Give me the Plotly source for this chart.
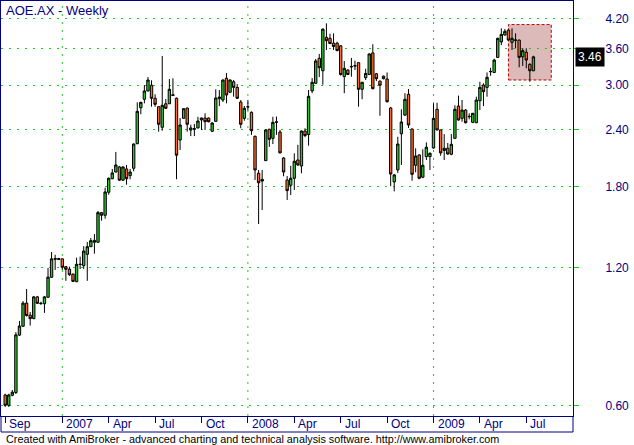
import math
import pandas as pd
import plotly.graph_objects as go

# ---------------- data ----------------
first_week = "2006-09-15"   # weekly bars, one per Friday

opens = [0.632, 0.600, 0.631, 0.640, 0.854, 0.893, 1.003, 0.944, 0.928, 1.035,
         1.000, 1.000, 1.033, 1.142, 1.250, 1.255, 1.253, 1.205, 1.190, 1.160,
         1.117, 1.220, 1.211, 1.282, 1.332, 1.362, 1.362, 1.581, 1.560, 1.752,
         1.875, 1.939, 1.989, 1.861, 1.969, 1.904, 1.976, 2.236, 2.679, 2.795,
         2.914, 3.000, 2.809, 2.693, 2.428, 2.733, 2.733, 2.860, 2.809, 2.278,
         2.540, 2.675, 2.395, 2.405, 2.420, 2.519, 2.544, 2.544, 2.380, 2.502,
         2.803, 2.785, 3.106, 2.896, 3.053, 2.968, 2.757, 2.540, 2.690, 2.618,
         2.320, 1.927, 1.869, 2.053, 2.404, 2.297, 2.490, 2.371, 2.081, 1.863,
         1.814, 1.879, 2.060, 1.999, 2.383, 2.341, 2.915, 3.030, 3.435, 3.226,
         3.817, 3.798, 3.707, 3.707, 3.658, 3.133, 3.238, 3.290, 3.310, 3.361,
         2.939, 3.116, 3.166, 3.529, 3.178, 3.063, 3.140, 3.095, 2.676, 1.845,
         1.960, 2.350, 2.582, 2.866, 2.408, 2.006, 2.113, 1.889, 2.095, 2.095,
         2.188, 2.658, 2.396, 2.161, 2.185, 2.120, 2.297, 2.702, 2.540, 2.648,
         2.560, 2.489, 2.485, 2.775, 3.003, 2.968, 3.210, 3.199, 3.451, 3.730,
         3.862, 3.957, 3.722, 3.760, 3.765, 3.461, 3.541, 3.332, 3.226]
highs = [0.636, 0.636, 0.648, 0.867, 0.917, 1.013, 1.077, 0.959, 1.040, 1.040,
         1.010, 1.040, 1.197, 1.297, 1.279, 1.260, 1.255, 1.205, 1.205, 1.165,
         1.261, 1.267, 1.336, 1.364, 1.392, 1.420, 1.594, 1.585, 1.792, 1.885,
         1.969, 2.145, 2.000, 1.995, 2.009, 1.969, 2.240, 2.753, 2.760, 3.003,
         3.126, 3.075, 2.866, 2.700, 3.475, 2.799, 3.095, 3.106, 2.820, 2.544,
         2.670, 2.680, 2.460, 2.470, 2.560, 2.550, 2.605, 2.550, 2.490, 2.939,
         2.929, 3.090, 3.188, 3.090, 3.080, 3.018, 2.785, 2.702, 2.785, 2.630,
         2.330, 1.959, 1.959, 2.400, 2.410, 2.560, 2.563, 2.396, 2.090, 1.900,
         2.000, 2.130, 2.223, 2.390, 2.416, 2.929, 3.110, 3.423, 3.511, 3.990,
         4.095, 3.886, 3.894, 3.733, 3.670, 3.389, 3.250, 3.441, 3.395, 3.370,
         3.050, 3.259, 3.520, 3.686, 3.190, 3.070, 3.150, 3.199, 2.690, 1.920,
         2.315, 2.658, 2.882, 2.944, 2.410, 2.185, 2.120, 2.174, 2.251, 2.140,
         2.739, 2.747, 2.400, 2.347, 2.244, 2.347, 2.712, 2.847, 2.785, 2.660,
         2.605, 2.610, 2.832, 3.053, 3.030, 3.199, 3.274, 3.428, 3.810, 3.994,
         3.981, 3.986, 3.994, 3.894, 3.770, 3.612, 3.612, 3.350, 3.480]
lows = [0.595, 0.595, 0.628, 0.635, 0.850, 0.890, 0.938, 0.896, 0.925, 1.000,
        0.995, 0.955, 1.030, 1.140, 1.185, 1.245, 1.185, 1.122, 1.150, 1.115,
        1.115, 1.191, 1.191, 1.122, 1.330, 1.286, 1.360, 1.518, 1.533, 1.730,
        1.870, 1.935, 1.855, 1.855, 1.819, 1.869, 1.946, 2.230, 2.592, 2.739,
        2.910, 2.693, 2.693, 2.375, 2.387, 2.665, 2.730, 2.840, 1.870, 2.166,
        2.535, 2.375, 2.323, 2.323, 2.415, 2.396, 2.396, 2.490, 2.375, 2.500,
        2.701, 2.757, 2.739, 2.890, 2.832, 2.800, 2.416, 2.510, 2.643, 2.337,
        1.863, 1.493, 1.602, 2.050, 2.200, 2.232, 2.337, 2.130, 1.898, 1.685,
        1.727, 1.772, 2.000, 1.927, 2.310, 2.214, 2.882, 3.020, 3.126, 3.008,
        3.582, 3.690, 3.582, 3.560, 3.150, 2.882, 3.160, 3.131, 3.238, 2.693,
        2.795, 3.080, 3.160, 2.940, 3.063, 2.573, 3.090, 2.750, 1.806, 1.759,
        1.930, 2.009, 2.570, 2.420, 1.856, 1.936, 1.870, 1.880, 2.060, 1.959,
        2.180, 2.390, 2.105, 2.060, 2.115, 2.110, 2.290, 2.510, 2.497, 2.475,
        2.527, 2.480, 2.480, 2.648, 2.702, 2.832, 3.147, 3.190, 3.440, 3.670,
        3.850, 3.750, 3.582, 3.612, 3.283, 3.304, 3.266, 3.053, 3.220]
closes = [0.600, 0.632, 0.641, 0.855, 0.894, 1.003, 0.942, 0.928, 1.035, 1.002,
          1.002, 1.035, 1.143, 1.253, 1.255, 1.250, 1.201, 1.189, 1.157, 1.119,
          1.219, 1.218, 1.303, 1.332, 1.373, 1.375, 1.581, 1.560, 1.754, 1.879,
          1.930, 2.009, 1.861, 1.989, 1.875, 1.939, 2.232, 2.631, 2.753, 2.914,
          3.080, 2.809, 2.725, 2.465, 2.712, 2.671, 2.939, 2.850, 2.110, 2.456,
          2.666, 2.465, 2.420, 2.410, 2.506, 2.544, 2.497, 2.497, 2.481, 2.813,
          2.827, 3.080, 2.856, 3.080, 2.968, 2.809, 2.465, 2.671, 2.692, 2.387,
          1.959, 1.837, 1.853, 2.396, 2.286, 2.489, 2.495, 2.135, 1.939, 1.766,
          1.879, 2.047, 2.009, 2.383, 2.329, 2.837, 3.045, 3.389, 3.276, 3.978,
          3.753, 3.699, 3.645, 3.570, 3.166, 3.266, 3.166, 3.295, 3.305, 2.939,
          3.045, 3.183, 3.511, 2.948, 3.100, 3.000, 3.100, 2.761, 1.920, 1.911,
          2.232, 2.494, 2.795, 2.456, 1.917, 2.102, 1.879, 2.006, 2.196, 2.131,
          2.540, 2.396, 2.135, 2.185, 2.123, 2.229, 2.658, 2.519, 2.648, 2.485,
          2.565, 2.605, 2.785, 2.968, 2.905, 3.122, 3.215, 3.405, 3.798, 3.874,
          3.934, 3.765, 3.798, 3.765, 3.451, 3.570, 3.405, 3.226, 3.460]

month_tick_dates = ["2006-09-15", "2007-01-05", "2007-04-06", "2007-07-06",
                    "2007-10-05", "2008-01-04", "2008-04-04", "2008-07-04",
                    "2008-10-03", "2009-01-02", "2009-04-03", "2009-07-03"]
month_tick_text = ["Sep", "2007", "Apr", "Jul", "Oct", "2008", "Apr", "Jul",
                   "Oct", "2009", "Apr", "Jul"]
year_grid_dates = ["2007-01-05", "2008-01-04", "2009-01-02"]

price_ticks = [0.60, 1.20, 1.80, 2.40, 3.00, 3.60, 4.20]
price_tick_text = ["0.60", "1.20", "1.80", "2.40", "3.00", "3.60", "4.20"]

study_box_dates = ["2009-05-29", "2009-08-21"]
study_box_prices = [3.08, 4.07]

x_range = ["2006-09-06 18:43", "2009-10-02 14:24"]
y_range = [0.5686, 4.582]

title_text = "AOE.AX - Weekly"
footer_text = ("Created with AmiBroker - advanced charting and technical analysis "
               "software. http://www.amibroker.com")

# ---------------- figure ----------------
NAVY = "#000080"
GRID = "#22c822"
FONT = "Arial, Liberation Sans, sans-serif"

dates = pd.date_range(first_week, periods=len(closes), freq="7D")

fig = go.Figure(go.Candlestick(
    x=dates, open=opens, high=highs, low=lows, close=closes,
    increasing=dict(fillcolor="#2cc42c", line=dict(color="black", width=1)),
    decreasing=dict(fillcolor="#ff6a26", line=dict(color="black", width=1)),
    whiskerwidth=0, showlegend=False, hoverinfo="skip"))

PLOT_H = 445 - 1 - 29
strip_y = -16 / PLOT_H

shapes = []
for d in year_grid_dates:
    shapes.append(dict(type="line", xref="x", yref="paper", x0=d, x1=d, y0=0, y1=1,
                       line=dict(color=GRID, width=1, dash="2px,6px"), layer="below"))
shapes.append(dict(type="rect", xref="x", yref="y",
                   x0=study_box_dates[0], x1=study_box_dates[1],
                   y0=study_box_prices[0], y1=study_box_prices[1],
                   fillcolor="#dcbaba", line=dict(color="#c00000", width=1, dash="3px,2px"),
                   layer="below"))
# date strip frame
shapes.append(dict(type="line", xref="paper", yref="paper", x0=0, x1=1, y0=strip_y, y1=strip_y,
                   line=dict(color=NAVY, width=1)))
shapes.append(dict(type="line", xref="paper", yref="paper", x0=0, x1=0, y0=strip_y, y1=0,
                   line=dict(color=NAVY, width=1)))
shapes.append(dict(type="line", xref="paper", yref="paper", x0=1, x1=1, y0=strip_y, y1=0,
                   line=dict(color=NAVY, width=1)))

annotations = []
for d, t in zip(month_tick_dates, month_tick_text):
    annotations.append(dict(x=d, xref="x", y=0, yref="paper", text=t, showarrow=False,
                            xanchor="left", yanchor="top", xshift=2, yshift=1,
                            font=dict(family=FONT, size=12, color=NAVY)))
annotations.append(dict(x=3 / 572, xref="paper", y=1, yref="paper", text=title_text,
                        showarrow=False, xanchor="left", yanchor="top", yshift=0,
                        font=dict(family=FONT, size=13, color=NAVY)))
annotations.append(dict(x=3 / 572, xref="paper", y=-23 / PLOT_H, yref="paper",
                        text=footer_text, showarrow=False, xanchor="left", yanchor="middle",
                        font=dict(family=FONT, size=10.8, color="black")))
annotations.append(dict(x=1, xref="paper", xshift=2, y=math.log10(closes[-1]), yref="y",
                        text=f"{closes[-1]:.2f}", showarrow=False, xanchor="left",
                        yanchor="middle", bgcolor="black", borderpad=2,
                        font=dict(family=FONT, size=12, color="white")))

fig.update_layout(
    width=634, height=445, margin=dict(l=1, r=61, t=1, b=29),
    paper_bgcolor="white", plot_bgcolor="white", showlegend=False, boxgap=0.05,
    xaxis=dict(type="date", range=x_range, rangeslider=dict(visible=False),
               showgrid=False, zeroline=False, showline=True, mirror=True,
               linecolor=NAVY, linewidth=1, ticks="outside", ticklen=6,
               tickcolor=NAVY, tickwidth=1, tickvals=month_tick_dates,
               showticklabels=False, automargin=False),
    yaxis=dict(type="log", side="right", range=[math.log10(y_range[0]), math.log10(y_range[1])],
               tickvals=price_ticks, ticktext=price_tick_text, showgrid=True,
               gridcolor=GRID, gridwidth=1, griddash="2px,6px", zeroline=False,
               showline=True, mirror=True, linecolor=NAVY, linewidth=1,
               ticks="outside", ticklen=5, tickcolor=GRID, tickwidth=1,
               ticklabelstandoff=24, automargin=False,
               tickfont=dict(family=FONT, size=12, color=NAVY)),
    shapes=shapes, annotations=annotations,
)

fig.write_html("out.html", config={"displayModeBar": False},
               post_script="document.body.style.margin='0';document.body.style.padding='0';")
